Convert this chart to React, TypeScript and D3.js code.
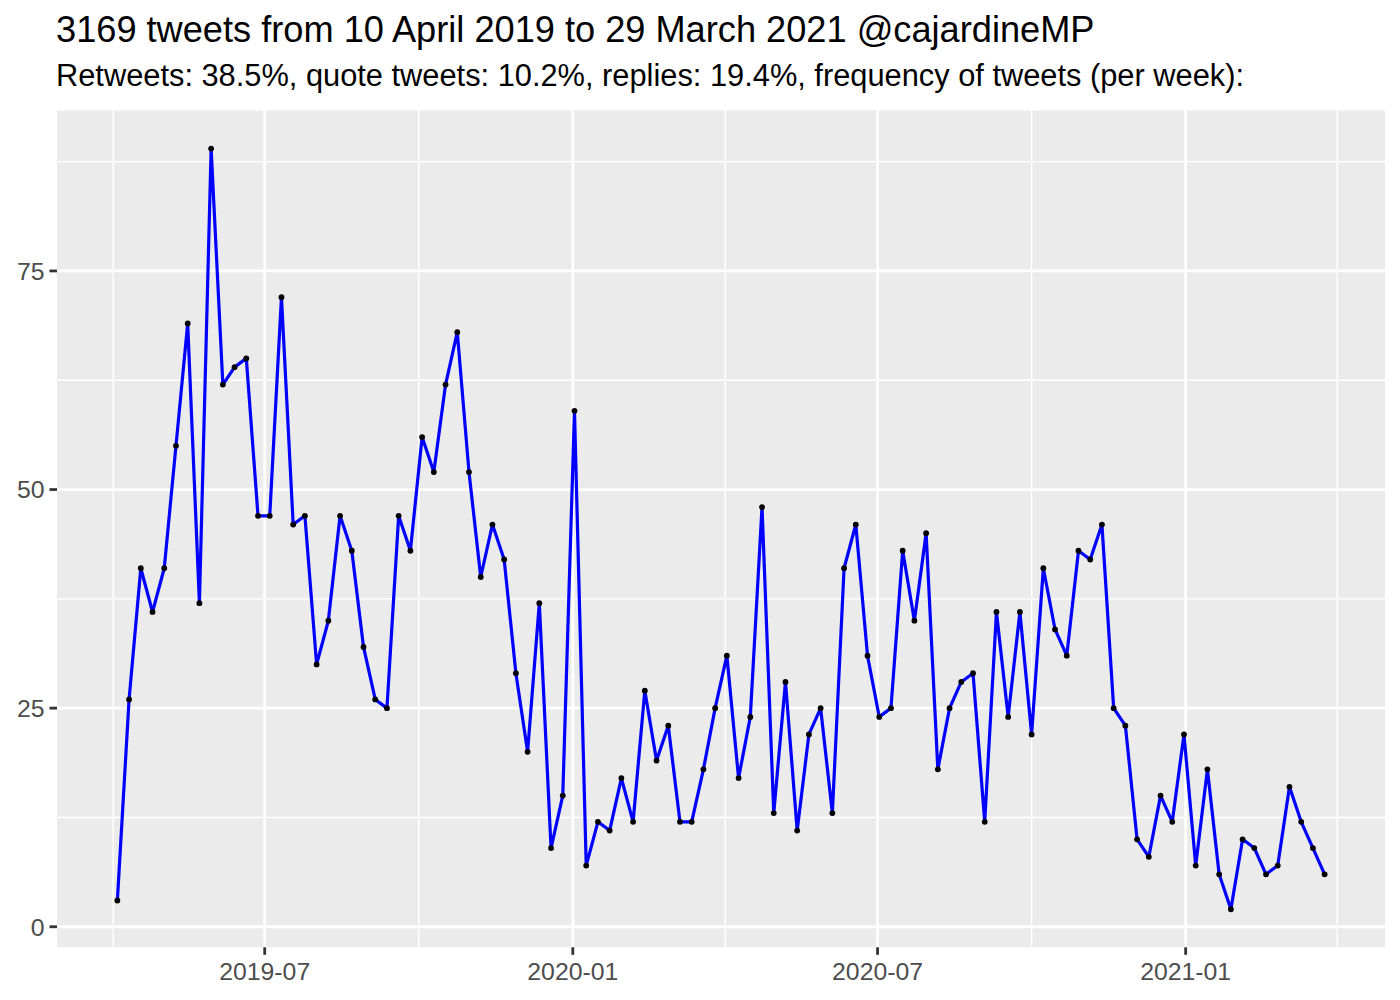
import React from "react";
import * as d3 from "d3";

const title = "3169 tweets from 10 April 2019 to 29 March 2021 @cajardineMP";
const subtitle =
  "Retweets: 38.5%, quote tweets: 10.2%, replies: 19.4%, frequency of tweets (per week):";

// First week shown and the weekly tweet counts (one value per week)
const firstWeek = "2019-04-04";
const weeklyCounts = [
  3, 26, 41, 36, 41, 55, 69, 37, 89, 62,
  64, 65, 47, 47, 72, 46, 47, 30, 35, 47,
  43, 32, 26, 25, 47, 43, 56, 52, 62, 68,
  52, 40, 46, 42, 29, 20, 37, 9, 15, 59,
  7, 12, 11, 17, 12, 27, 19, 23, 12, 12,
  18, 25, 31, 17, 24, 48, 13, 28, 11, 22,
  25, 13, 41, 46, 31, 24, 25, 43, 35, 45,
  18, 25, 28, 29, 12, 36, 24, 36, 22, 41,
  34, 31, 43, 42, 46, 25, 23, 10, 8, 15,
  12, 22, 7, 18, 6, 2, 10, 9, 6, 7,
  16, 12, 9, 6,
];

const xTickDates = ["2019-07-01", "2020-01-01", "2020-07-01", "2021-01-01"];
const xTickLabels = ["2019-07", "2020-01", "2020-07", "2021-01"];
const xMinorDates = ["2019-01-01", "2019-07-01", "2020-01-01", "2020-07-01", "2021-01-01", "2021-07-01"];
const yTicks = [0, 25, 50, 75];
const yMinor = [12.5, 37.5, 62.5, 87.5];

const W = 1400;
const H = 1000;
const panel = { left: 57, right: 1385, top: 110.5, bottom: 947.3 };
const FONT = "'Liberation Sans', Arial, Helvetica, sans-serif";

export default function App() {
  const start = new Date(firstWeek + "T00:00:00Z");
  const data = weeklyCounts.map((v, i) => ({
    date: d3.utcDay.offset(start, 7 * i),
    value: v,
  }));

  const [dMin, dMax] = d3.extent(data, (d) => d.date) as [Date, Date];
  const spanMs = dMax.getTime() - dMin.getTime();
  const x = d3
    .scaleUtc()
    .domain([new Date(dMin.getTime() - 0.05 * spanMs), new Date(dMax.getTime() + 0.05 * spanMs)])
    .range([panel.left, panel.right]);

  const [vMin, vMax] = d3.extent(data, (d) => d.value) as [number, number];
  const vSpan = vMax - vMin;
  const y = d3
    .scaleLinear()
    .domain([vMin - 0.05 * vSpan, vMax + 0.05 * vSpan])
    .range([panel.bottom, panel.top]);

  const line = d3
    .line<{ date: Date; value: number }>()
    .x((d) => x(d.date))
    .y((d) => y(d.value));

  const majorX = xTickDates.map((s) => new Date(s + "T00:00:00Z"));
  const minorXSrc = xMinorDates.map((s) => new Date(s + "T00:00:00Z"));
  const minorX: Date[] = [];
  for (let i = 0; i < minorXSrc.length - 1; i++) {
    const m = new Date((minorXSrc[i].getTime() + minorXSrc[i + 1].getTime()) / 2);
    const px = x(m);
    if (px >= panel.left && px <= panel.right) minorX.push(m);
  }

  return (
    <svg
      width={W}
      height={H}
      style={{ position: "absolute", left: 0, top: 0, background: "#ffffff" }}
      fontFamily={FONT}
    >
      <rect x={0} y={0} width={W} height={H} fill="#ffffff" />
      <text x={56} y={42} fontSize={36.2} fill="#000000">
        {title}
      </text>
      <text x={56} y={86} fontSize={30.8} fill="#000000">
        {subtitle}
      </text>

      <rect
        x={panel.left}
        y={panel.top}
        width={panel.right - panel.left}
        height={panel.bottom - panel.top}
        fill="#EBEBEB"
      />
      {/* minor grid */}
      {yMinor.map((v) => (
        <line key={"ym" + v} x1={panel.left} x2={panel.right} y1={y(v)} y2={y(v)} stroke="#ffffff" strokeWidth={1.4} />
      ))}
      {minorX.map((d, i) => (
        <line key={"xm" + i} x1={x(d)} x2={x(d)} y1={panel.top} y2={panel.bottom} stroke="#ffffff" strokeWidth={1.4} />
      ))}
      {/* major grid */}
      {yTicks.map((v) => (
        <line key={"yM" + v} x1={panel.left} x2={panel.right} y1={y(v)} y2={y(v)} stroke="#ffffff" strokeWidth={2.8} />
      ))}
      {majorX.map((d, i) => (
        <line key={"xM" + i} x1={x(d)} x2={x(d)} y1={panel.top} y2={panel.bottom} stroke="#ffffff" strokeWidth={2.8} />
      ))}

      <path d={line(data) ?? ""} fill="none" stroke="#0000FF" strokeWidth={3.2} strokeLinejoin="round" strokeLinecap="round" />
      {data.map((d, i) => (
        <circle key={"p" + i} cx={x(d.date)} cy={y(d.value)} r={2.9} fill="#000000" />
      ))}

      {/* y axis */}
      {yTicks.map((v) => (
        <g key={"yt" + v}>
          <line x1={panel.left - 7.5} x2={panel.left} y1={y(v)} y2={y(v)} stroke="#333333" strokeWidth={2.8} />
          <text x={44.5} y={y(v)} dy="0.36em" textAnchor="end" fontSize={24.8} fill="#4D4D4D">
            {String(v)}
          </text>
        </g>
      ))}
      {/* x axis */}
      {majorX.map((d, i) => (
        <g key={"xt" + i}>
          <line x1={x(d)} x2={x(d)} y1={panel.bottom} y2={panel.bottom + 7.5} stroke="#333333" strokeWidth={2.8} />
          <text x={x(d)} y={979.5} textAnchor="middle" fontSize={24.8} fill="#4D4D4D">
            {xTickLabels[i]}
          </text>
        </g>
      ))}
    </svg>
  );
}
